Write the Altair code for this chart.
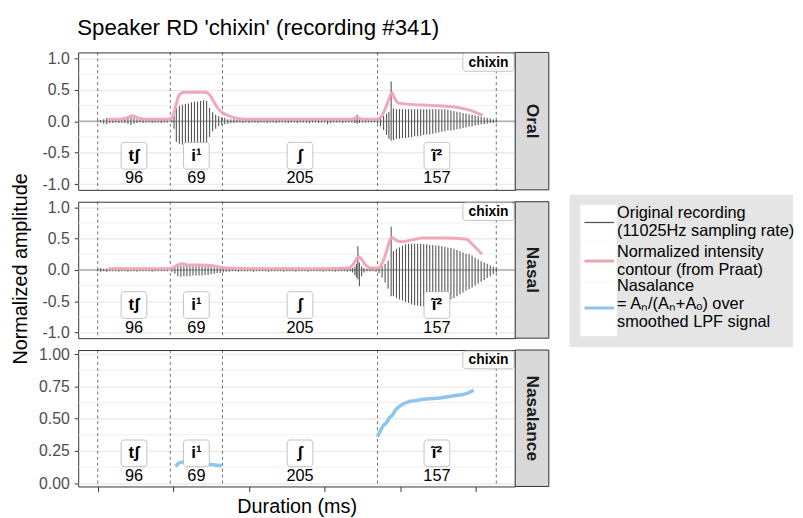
import altair as alt
import pandas as pd

# ------------------------------------------------------------------ data
boundaries = [0, 96, 165, 370, 527]
segments = ["tʃ", "i¹", "ʃ", "ĩ²"]
durations = [96, 69, 205, 157]

# waveform envelopes: (time ms, upper, lower)
oral_tsh = [(0, 0.01, -0.01), (4, 0.02, -0.02), (8, 0.03, -0.04), (12, 0.05, -0.05),
            (16, 0.04, -0.03), (20, 0.03, -0.03), (24, 0.02, -0.02), (28, 0.03, -0.03),
            (32, 0.02, -0.02), (36, 0.03, -0.03), (40, 0.06, -0.04), (44, 0.10, -0.06),
            (48, 0.05, -0.04), (52, 0.03, -0.03), (56, 0.02, -0.02), (60, 0.03, -0.03),
            (64, 0.02, -0.02), (68, 0.02, -0.02), (72, 0.03, -0.03), (76, 0.02, -0.02),
            (80, 0.02, -0.02), (84, 0.03, -0.03), (88, 0.02, -0.02), (92, 0.02, -0.02)]
oral_i1 = [(98, 0.02, -0.02), (101, 0.08, -0.12), (104, 0.21, -0.33), (108, 0.24, -0.36),
           (112, 0.26, -0.37), (116, 0.27, -0.37), (120, 0.28, -0.36), (124, 0.30, -0.37),
           (128, 0.31, -0.36), (132, 0.31, -0.36), (136, 0.32, -0.35), (140, 0.33, -0.36),
           (144, 0.32, -0.33), (148, 0.21, -0.25), (152, 0.14, -0.16), (156, 0.10, -0.12),
           (160, 0.08, -0.08), (164, 0.06, -0.06), (168, 0.05, -0.05), (172, 0.03, -0.04),
           (176, 0.03, -0.03)]
oral_sh = [(180, 0.03, -0.03), (184, 0.02, -0.02), (188, 0.02, -0.02), (192, 0.03, -0.03),
           (196, 0.02, -0.02), (200, 0.02, -0.03), (204, 0.03, -0.02), (208, 0.02, -0.02),
           (212, 0.02, -0.03), (216, 0.02, -0.02), (220, 0.03, -0.02), (224, 0.02, -0.03),
           (228, 0.02, -0.02), (232, 0.03, -0.02), (236, 0.02, -0.03), (240, 0.02, -0.02),
           (244, 0.02, -0.02), (248, 0.03, -0.02), (252, 0.02, -0.03), (256, 0.02, -0.02),
           (260, 0.03, -0.02), (264, 0.02, -0.03), (268, 0.02, -0.02), (272, 0.02, -0.02),
           (276, 0.03, -0.02), (280, 0.02, -0.03), (284, 0.02, -0.02), (288, 0.03, -0.02),
           (292, 0.02, -0.03), (296, 0.02, -0.02), (300, 0.02, -0.02), (304, 0.03, -0.05),
           (308, 0.02, -0.03), (312, 0.02, -0.02), (316, 0.02, -0.02), (320, 0.03, -0.02),
           (324, 0.02, -0.03), (328, 0.02, -0.02), (332, 0.02, -0.02), (336, 0.03, -0.02),
           (340, 0.04, -0.03), (343, 0.10, -0.04), (346, 0.03, -0.03), (350, 0.02, -0.02),
           (354, 0.02, -0.02), (358, 0.02, -0.02), (362, 0.02, -0.02), (366, 0.02, -0.02)]
oral_i2 = [(370, 0.02, -0.03), (374, 0.05, -0.08), (378, 0.08, -0.14), (382, 0.12, -0.22),
           (385, 0.15, -0.28), (388, 0.63, -0.31), (391, 0.20, -0.30), (395, 0.19, -0.28),
           (399, 0.19, -0.28), (403, 0.19, -0.27), (407, 0.19, -0.27), (411, 0.19, -0.26),
           (415, 0.19, -0.25), (419, 0.19, -0.24), (423, 0.19, -0.24), (427, 0.19, -0.23),
           (431, 0.19, -0.22), (435, 0.19, -0.21), (439, 0.19, -0.21), (443, 0.19, -0.20),
           (447, 0.19, -0.19), (451, 0.19, -0.18), (455, 0.19, -0.17), (459, 0.19, -0.16),
           (463, 0.18, -0.15), (467, 0.17, -0.15), (471, 0.16, -0.14), (475, 0.15, -0.13),
           (479, 0.14, -0.12), (483, 0.13, -0.11), (487, 0.12, -0.10), (491, 0.11, -0.09),
           (495, 0.10, -0.08), (499, 0.09, -0.07), (503, 0.08, -0.06), (507, 0.07, -0.05),
           (511, 0.06, -0.05), (515, 0.05, -0.04), (519, 0.04, -0.03), (523, 0.03, -0.03),
           (527, 0.02, -0.02)]

nasal_tsh = [(0, 0.02, -0.02), (4, 0.03, -0.03), (8, 0.02, -0.02), (12, 0.02, -0.03),
             (16, 0.02, -0.02), (20, 0.03, -0.02), (24, 0.02, -0.02), (28, 0.02, -0.03),
             (32, 0.02, -0.02), (36, 0.02, -0.02), (40, 0.03, -0.03), (44, 0.02, -0.02),
             (48, 0.02, -0.02), (52, 0.02, -0.03), (56, 0.02, -0.02), (60, 0.03, -0.02),
             (64, 0.02, -0.02), (68, 0.02, -0.02), (72, 0.02, -0.03), (76, 0.02, -0.02),
             (80, 0.02, -0.02), (84, 0.03, -0.02), (88, 0.02, -0.02), (92, 0.02, -0.02)]
nasal_i1 = [(98, 0.02, -0.03), (102, 0.04, -0.06), (106, 0.07, -0.10), (110, 0.07, -0.11),
            (114, 0.07, -0.10), (118, 0.07, -0.10), (122, 0.06, -0.10), (126, 0.06, -0.09),
            (130, 0.06, -0.09), (134, 0.07, -0.09), (138, 0.06, -0.09), (142, 0.06, -0.08),
            (146, 0.06, -0.08), (150, 0.05, -0.07), (154, 0.04, -0.06), (158, 0.04, -0.05),
            (162, 0.03, -0.05), (166, 0.03, -0.04), (170, 0.02, -0.03), (174, 0.02, -0.03)]
nasal_sh = [(178, 0.02, -0.02), (182, 0.02, -0.02), (186, 0.02, -0.03), (190, 0.02, -0.02),
            (194, 0.03, -0.02), (198, 0.02, -0.02), (202, 0.02, -0.02), (206, 0.02, -0.03),
            (210, 0.02, -0.02), (214, 0.02, -0.02), (218, 0.03, -0.02), (222, 0.02, -0.02),
            (226, 0.02, -0.03), (230, 0.02, -0.02), (234, 0.02, -0.02), (238, 0.02, -0.02),
            (242, 0.03, -0.02), (246, 0.02, -0.03), (250, 0.02, -0.02), (254, 0.02, -0.02),
            (258, 0.02, -0.02), (262, 0.02, -0.03), (266, 0.03, -0.02), (270, 0.02, -0.02),
            (274, 0.02, -0.02), (278, 0.02, -0.03), (282, 0.02, -0.02), (286, 0.02, -0.02),
            (290, 0.03, -0.02), (294, 0.02, -0.02), (298, 0.02, -0.03), (302, 0.02, -0.02),
            (306, 0.02, -0.02), (310, 0.02, -0.02), (314, 0.03, -0.03), (318, 0.02, -0.02),
            (322, 0.02, -0.02), (326, 0.02, -0.02), (330, 0.02, -0.03), (334, 0.02, -0.02),
            (337, 0.03, -0.04), (340, 0.05, -0.08), (342, 0.10, -0.12), (344, 0.38, -0.15),
            (346, 0.12, -0.26), (349, 0.06, -0.10), (352, 0.03, -0.04), (356, 0.02, -0.02),
            (360, 0.02, -0.02), (364, 0.02, -0.02), (368, 0.02, -0.03)]
nasal_i2 = [(372, 0.03, -0.05), (376, 0.06, -0.12), (380, 0.10, -0.20), (384, 0.15, -0.30),
            (388, 0.69, -0.42), (391, 0.30, -0.42), (395, 0.34, -0.45), (399, 0.36, -0.47),
            (403, 0.39, -0.49), (407, 0.41, -0.51), (411, 0.42, -0.53), (415, 0.42, -0.55),
            (419, 0.42, -0.56), (423, 0.42, -0.57), (427, 0.42, -0.58), (431, 0.41, -0.58),
            (435, 0.41, -0.57), (439, 0.40, -0.56), (443, 0.40, -0.55), (447, 0.39, -0.54),
            (451, 0.39, -0.53), (455, 0.38, -0.52), (459, 0.37, -0.50), (463, 0.36, -0.48),
            (467, 0.35, -0.47), (471, 0.34, -0.45), (475, 0.32, -0.42), (479, 0.30, -0.39),
            (483, 0.28, -0.36), (487, 0.26, -0.33), (491, 0.25, -0.31), (495, 0.23, -0.28),
            (499, 0.20, -0.25), (503, 0.17, -0.22), (507, 0.14, -0.19), (511, 0.12, -0.16),
            (515, 0.10, -0.13), (519, 0.07, -0.10), (523, 0.05, -0.07), (527, 0.03, -0.04)]

# intensity contours (time ms, value)
oral_intensity = [(14, 0.03), (30, 0.03), (38, 0.05), (46, 0.08), (54, 0.05), (62, 0.03),
                  (80, 0.03), (95, 0.03), (100, 0.10), (104, 0.28), (108, 0.42), (114, 0.46),
                  (143, 0.46), (148, 0.42), (153, 0.32), (158, 0.22), (162, 0.16), (169, 0.11),
                  (182, 0.05), (195, 0.03), (250, 0.03), (300, 0.03), (336, 0.03), (343, 0.06),
                  (350, 0.03), (370, 0.03), (374, 0.06), (378, 0.14), (382, 0.25), (386, 0.38),
                  (389, 0.45), (392, 0.38), (397, 0.29), (410, 0.27), (440, 0.25), (474, 0.22),
                  (487, 0.19), (500, 0.14), (509, 0.09)]
nasal_intensity = [(14, 0.02), (95, 0.02), (100, 0.04), (106, 0.08), (112, 0.10), (120, 0.08),
                   (135, 0.08), (150, 0.07), (158, 0.05), (169, 0.03), (200, 0.02), (300, 0.02),
                   (332, 0.03), (337, 0.08), (341, 0.15), (345, 0.21), (349, 0.17), (354, 0.08),
                   (362, 0.03), (371, 0.03), (378, 0.16), (382, 0.30), (386, 0.47), (389, 0.52),
                   (395, 0.47), (401, 0.45), (416, 0.48), (429, 0.51), (460, 0.51), (487, 0.49),
                   (497, 0.39), (508, 0.25)]

# nasalance (time ms, value), two voiced stretches
nasalance_i1 = [(103, 0.13), (106, 0.15), (109, 0.16), (112, 0.165), (115, 0.16), (120, 0.15),
                (130, 0.145), (140, 0.145), (150, 0.145), (158, 0.14), (164, 0.135)]
nasalance_i2 = [(370, 0.36), (374, 0.41), (378, 0.45), (382, 0.47), (386, 0.51), (390, 0.53),
                (394, 0.57), (400, 0.60), (406, 0.62), (413, 0.635), (420, 0.64), (430, 0.65),
                (440, 0.655), (452, 0.66), (463, 0.67), (474, 0.68), (482, 0.685), (490, 0.70),
                (497, 0.72)]

amp_ticks = [-1.0, -0.5, 0.0, 0.5, 1.0]
amp_minor = [-0.75, -0.25, 0.25, 0.75]
nas_ticks = [0.0, 0.25, 0.5, 0.75, 1.0]
nas_minor = [0.125, 0.375, 0.625, 0.875]
x_ticks = [0, 100, 200, 300, 400, 500]

title_text = "Speaker RD 'chixin' (recording #341)"
word = "chixin"
legend_lines = [["Original recording", "(11025Hz sampling rate)"],
                ["Normalized intensity", "contour (from Praat)"],
                ["Nasalance", "\u00a0= Aₙ/(Aₙ+Aₒ) over", "\u00a0smoothed LPF signal"]]

# ------------------------------------------------------------------ style
FONT = "Liberation Sans"
W = 442
X_DOM = [-25.75, 552]
GRAY, PINK, BLUE = "#555555", "#f0a3b3", "#8cc5ee"
legend_colors = [GRAY, PINK, BLUE]
legend_widths = [1.3, 3, 3]

xscale = alt.Scale(domain=X_DOM, nice=False, zero=False)

seg_df = pd.DataFrame({
    "seg": segments,
    "dur": [str(d) for d in durations],
    "mid": [(boundaries[i] + boundaries[i + 1]) / 2 for i in range(len(segments))],
})


def wave_df(*parts):
    rows = [r for p in parts for r in p]
    return pd.DataFrame(rows, columns=["t", "hi", "lo"])


def line_df(*parts):
    rows = []
    for k, p in enumerate(parts):
        rows += [(t, v, k) for t, v in p]
    return pd.DataFrame(rows, columns=["t", "v", "part"])


def panel(name, H, ydom, ticks, minor, fmt, waves=None, intensity=None, nasal=None,
          bottom=False, extra=None):
    yscale = alt.Scale(domain=ydom, nice=False, zero=False)
    yaxis = alt.Axis(values=ticks, labelExpr=f"replace(format(datum.value,'{fmt}'),'\u2212','-')",
                     grid=True, gridColor="#ebebeb", gridWidth=1.4, tickSize=4,
                     tickColor="#333333", tickWidth=1, domain=False, labelFontSize=16,
                     labelColor="#4d4d4d", labelFont=FONT, labelPadding=5, title=None)
    if bottom:
        xaxis = alt.Axis(values=x_ticks, labels=False, ticks=True, tickSize=5,
                         tickColor="#333333", tickWidth=1, domain=False, grid=False,
                         title="Duration (ms)", titleFont=FONT, titleFontSize=20,
                         titleFontWeight="normal", titleColor="black", titlePadding=5)
    else:
        xaxis = None

    def X(f):
        return alt.X(f, type="quantitative", scale=xscale, axis=xaxis)

    def Y(f):
        return alt.Y(f, type="quantitative", scale=yscale, axis=yaxis)

    layers = []
    layers.append(alt.Chart(pd.DataFrame({"m": minor})).mark_rule(
        color="#ebebeb", strokeWidth=0.7).encode(
        y=Y("m"), x=alt.value(0), x2=alt.value(W)))
    layers.append(alt.Chart(pd.DataFrame({"b": boundaries})).mark_rule(
        color="#333333", strokeWidth=0.7, strokeDash=[3, 3]).encode(
        x=X("b"), y=alt.value(0), y2=alt.value(H)))
    if waves is not None:
        layers.append(alt.Chart(pd.DataFrame({"z": [0.0]})).mark_rule(
            color="#8c8c8c", strokeWidth=1).encode(
            y=Y("z"), x=alt.value(0), x2=alt.value(W)))
        layers.append(alt.Chart(waves).mark_rule(color=GRAY, strokeWidth=1.1).encode(
            x=X("t"), y=Y("hi"), y2="lo:Q"))
    if intensity is not None:
        layers.append(alt.Chart(intensity).mark_line(
            color=PINK, strokeWidth=3, opacity=0.95, interpolate="monotone").encode(
            x=X("t"), y=Y("v"), detail="part:N"))
    if nasal is not None:
        layers.append(alt.Chart(nasal).mark_line(
            color=BLUE, strokeWidth=3.5, interpolate="linear").encode(
            x=X("t"), y=Y("v"), detail="part:N"))
    # segment labels
    layers.append(alt.Chart(seg_df).mark_rect(
        fill="white", stroke="#b3b3b3", strokeWidth=0.8, cornerRadius=3,
        xOffset=-13, x2Offset=13).encode(
        x=X("mid"), x2="mid:Q", y=alt.value(91), y2=alt.value(118)))
    layers.append(alt.Chart(seg_df).mark_text(
        font=FONT, fontSize=17, fontWeight="bold", color="black", baseline="middle").encode(
        x=X("mid"), y=alt.value(104.5), text="seg:N"))
    layers.append(alt.Chart(seg_df).mark_text(
        font=FONT, fontSize=16.5, color="black", baseline="middle").encode(
        x=X("mid"), y=alt.value(127.5), text="dur:N"))
    # word tag
    wdf = pd.DataFrame({"w": [word]})
    layers.append(alt.Chart(wdf).mark_rect(
        fill="white", stroke="#b3b3b3", strokeWidth=0.8, cornerRadius=3).encode(
        x=alt.value(W - 53), x2=alt.value(W - 1), y=alt.value(1), y2=alt.value(19)))
    layers.append(alt.Chart(wdf).mark_text(
        font=FONT, fontSize=14, fontWeight="bold", color="black", baseline="middle").encode(
        x=alt.value(W - 27), y=alt.value(10.5), text="w:N"))
    # strip
    sdf = pd.DataFrame({"s": [name]})
    layers.append(alt.Chart(sdf).mark_rect(
        fill="#d9d9d9", stroke="#333333", strokeWidth=1).encode(
        x=alt.value(W), x2=alt.value(W + 34), y=alt.value(0), y2=alt.value(H)))
    layers.append(alt.Chart(sdf).mark_text(
        font=FONT, fontSize=17.5, fontWeight="bold", color="#1a1a1a", angle=90,
        baseline="middle", align="center").encode(
        x=alt.value(W + 17), y=alt.value(H / 2), text="s:N"))
    if extra:
        layers += extra
    return alt.layer(*layers).properties(width=W, height=H)


# invisible anchor fixing the top-left corner of the page (panel at x=78, y=49)
anchor_layer = alt.Chart(pd.DataFrame({"a": [0]})).mark_rect(opacity=0).encode(
    x=alt.value(-70), x2=alt.value(-69), y=alt.value(-41), y2=alt.value(-40))

# title (top panel)
title_layer = alt.Chart(pd.DataFrame({"t": [title_text]})).mark_text(
    font=FONT, fontSize=22.5, color="black", align="left", baseline="alphabetic").encode(
    x=alt.value(-1), y=alt.value(-18), text="t:N")

# y title + legend (middle panel)
H2 = 138
ytitle_layer = alt.Chart(pd.DataFrame({"t": ["Normalized amplitude"]})).mark_text(
    font=FONT, fontSize=20, color="black", angle=270, align="center", baseline="middle").encode(
    x=alt.value(-58), y=alt.value(H2 / 2 - 1), text="t:N")

legend_layers = [alt.Chart(pd.DataFrame({"k": ["bg"]})).mark_rect(fill="#e5e5e5").encode(
    x=alt.value(497), x2=alt.value(723), y=alt.value(-7), y2=alt.value(147))]
key_tops = [3, 40, 82]
key_bottoms = [40, 82, 136]
line_ys = [21, 60, 107.5]
text_starts = [11, 50.5, 85.5]
LINE_H = 18.3
for k, lines in enumerate(legend_lines):
    kdf = pd.DataFrame({"k": [k]})
    legend_layers.append(alt.Chart(kdf).mark_rect(fill="white").encode(
        x=alt.value(508), x2=alt.value(545), y=alt.value(key_tops[k]),
        y2=alt.value(key_bottoms[k])))
    legend_layers.append(alt.Chart(kdf).mark_rule(
        color=legend_colors[k], strokeWidth=legend_widths[k]).encode(
        x=alt.value(512), x2=alt.value(542), y=alt.value(line_ys[k])))
    for j, txt in enumerate(lines):
        legend_layers.append(alt.Chart(pd.DataFrame({"t": [txt]})).mark_text(
            font=FONT, fontSize=16.5, color="black", align="left", baseline="middle").encode(
            x=alt.value(545), y=alt.value(text_starts[k] + j * LINE_H), text="t:N"))

p1 = panel("Oral", 139, [-1.09, 1.09], amp_ticks, amp_minor, ".1f",
           waves=wave_df(oral_tsh, oral_i1, oral_sh, oral_i2),
           intensity=line_df(oral_intensity), extra=[title_layer, anchor_layer])
p2 = panel("Nasal", H2, [-1.09, 1.09], amp_ticks, amp_minor, ".1f",
           waves=wave_df(nasal_tsh, nasal_i1, nasal_sh, nasal_i2),
           intensity=line_df(nasal_intensity), extra=[ytitle_layer] + legend_layers)
p3 = panel("Nasalance", 138, [-0.025, 1.032], nas_ticks, nas_minor, ".2f",
           nasal=line_df(nasalance_i1, nasalance_i2), bottom=True)

chart = alt.vconcat(p1, p2, p3, spacing=12, bounds="flush").properties(
    padding={"left": 0, "top": 0, "right": 0, "bottom": 2},
    background="white",
).configure_view(stroke="#333333", strokeWidth=1)

chart.save("out.html", embed_options={"renderer": "svg", "actions": False})
